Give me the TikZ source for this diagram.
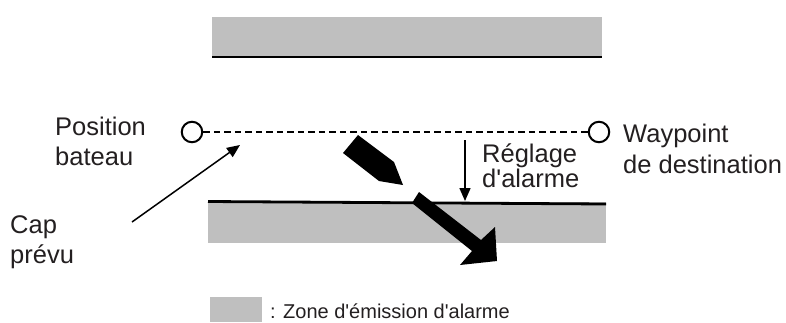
\documentclass[tikz,border=0pt]{standalone}
\usepackage{fontspec}
\newfontfamily\lab{Liberation Sans}
\usetikzlibrary{arrows.meta}
\definecolor{zone}{RGB}{191,191,191}
\definecolor{txt}{RGB}{35,31,32}
\begin{document}
\begin{tikzpicture}[x=1pt,y=-1pt,
  lbl/.style={anchor=base west,inner sep=0pt,font=\lab\fontsize{25.5}{30}\selectfont,text=txt},
  leg/.style={anchor=base west,inner sep=0pt,font=\lab\fontsize{20}{24}\selectfont,text=txt},
  edge/.style={line width=2.8pt},
  wpt/.style={circle,draw,line width=2pt,minimum size=20.5pt,inner sep=0pt,fill=white},
  ptr/.style={line width=1.5pt,-{Triangle[length=13pt,width=11pt]}},
  route/.style={line width=1.8pt,dash pattern=on 6.5pt off 4pt}]
\useasboundingbox (0,0) rectangle (786,322);
% top zone
\fill[zone] (212,17) rectangle (602,57);
\coordinate (tl) at (212,57);
\coordinate (tr) at (602,57);
\draw[edge] (tl) -- (tr);
% bottom zone
\fill[zone] (208,202) rectangle (606,243);
\coordinate (bl) at (208,201.5);
\coordinate (br) at (606,204);
\draw[edge] (bl) -- (br);
% route
\node[wpt] (start) at (192,132) {};
\node[wpt] (dest) at (599,132) {};
\draw[route] (start) -- (dest);
% boat
\fill (343,153) -- (358,135) -- (394,162) -- (403,185) -- (379,181) -- cycle;
% drift arrow
\fill (412,203) -- (419,192) -- (481,240) -- (495,227) -- (497,261) -- (460,265) -- (472,251) -- cycle;
% cap arrow
\coordinate (capS) at (132,222);
\coordinate (capE) at (240,145);
\draw[ptr] (capS) -- (capE);
% alarm setting arrow
\coordinate (rgS) at (465,140);
\coordinate (rgE) at (465,201);
\draw[ptr] (rgS) -- (rgE);
% labels
\node[lbl] (pos1) at (55,135) {Position};
\node[lbl] (pos2) at (55,165) {bateau};
\node[lbl] (cap1) at (10,233) {Cap};
\node[lbl] (cap2) at (10,263) {prévu};
\node[lbl] (wp1) at (623,142) {Waypoint};
\node[lbl] (wp2) at (623,173) {de destination};
\node[lbl] (rg1) at (482,162) {Réglage};
\node[lbl] (rg2) at (482,187) {d'alarme};
% legend
\fill[zone] (210,297) rectangle (262,322);
\node[leg] (legt) at (270,318) {: Zone d'émission d'alarme};
\end{tikzpicture}
\end{document}
